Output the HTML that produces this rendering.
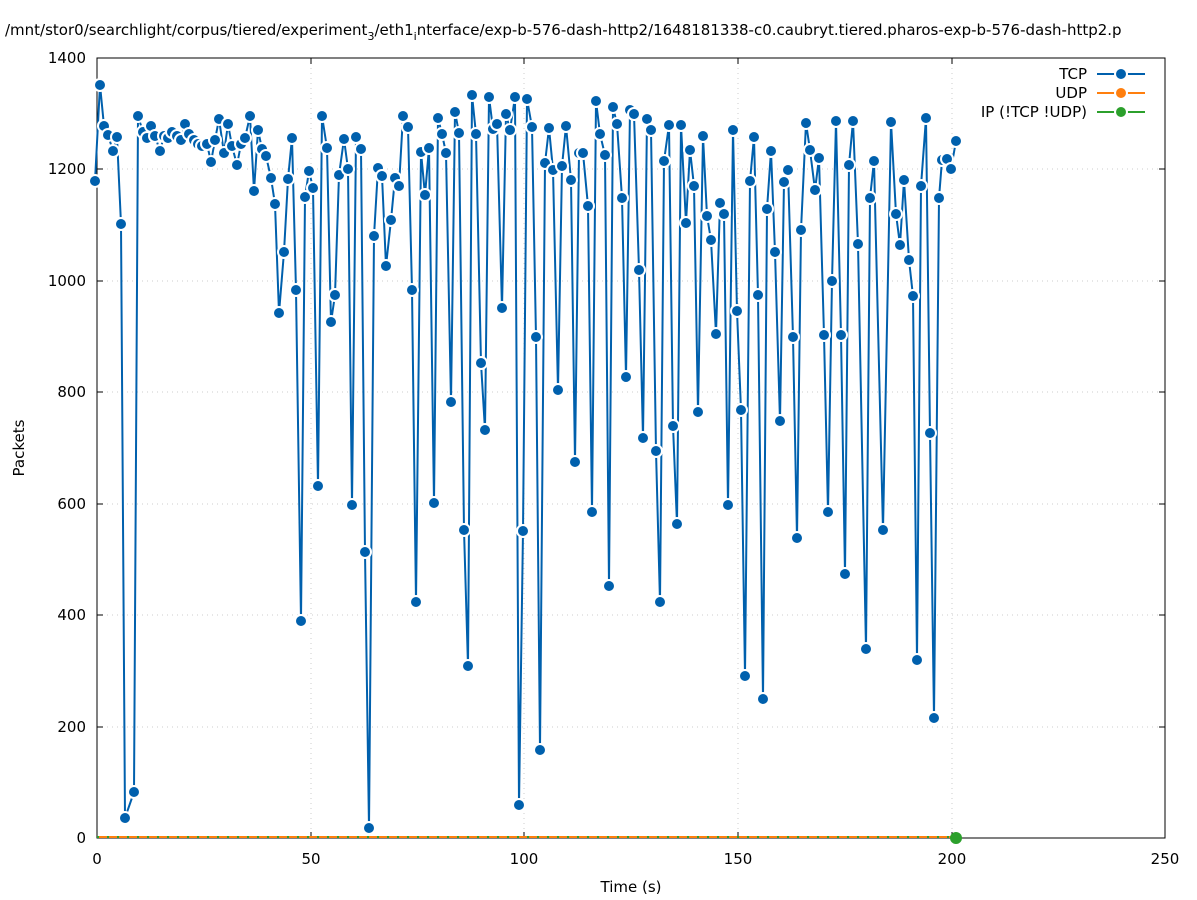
<!DOCTYPE html>
<html><head><meta charset="utf-8"><style>
body{margin:0;background:#fff;}
svg{display:block;font-family:"DejaVu Sans","Liberation Sans",sans-serif;}
.m{fill:#0060ad;stroke:#fff;stroke-width:2;}
</style></head><body>
<svg width="1197" height="900" viewBox="0 0 1197 900">
<rect width="1197" height="900" fill="#fff"/>
<text x="5" y="35" font-size="15" fill="#000">/mnt/stor0/searchlight/corpus/tiered/experiment<tspan font-size="11" dy="5">3</tspan><tspan dy="-5">/eth1</tspan><tspan font-size="11" dy="5">i</tspan><tspan dy="-5">nterface/exp-b-576-dash-http2/1648181338-c0.caubryt.tiered.pharos-exp-b-576-dash-http2.p</tspan></text>
<g stroke="#ccc" stroke-width="1" stroke-dasharray="1,4">
<line x1="97" x2="1165" y1="727" y2="727"/><line x1="97" x2="1165" y1="615" y2="615"/><line x1="97" x2="1165" y1="504" y2="504"/><line x1="97" x2="1165" y1="392" y2="392"/><line x1="97" x2="1165" y1="281" y2="281"/><line x1="97" x2="1165" y1="169" y2="169"/>
<line x1="311" x2="311" y1="58" y2="838"/><line x1="524" x2="524" y1="58" y2="838"/><line x1="738" x2="738" y1="58" y2="838"/><line x1="952" x2="952" y1="58" y2="838"/>
</g>
<rect x="97" y="58" width="1068" height="780" fill="none" stroke="#000" stroke-width="1"/>
<g stroke="#000"><line x1="311" x2="311" y1="838" y2="832"/><line x1="524" x2="524" y1="838" y2="832"/><line x1="738" x2="738" y1="838" y2="832"/><line x1="952" x2="952" y1="838" y2="832"/><line x1="311" x2="311" y1="58" y2="64"/><line x1="524" x2="524" y1="58" y2="64"/><line x1="738" x2="738" y1="58" y2="64"/><line x1="952" x2="952" y1="58" y2="64"/>
<line x1="97" x2="103" y1="727" y2="727"/><line x1="97" x2="103" y1="615" y2="615"/><line x1="97" x2="103" y1="504" y2="504"/><line x1="97" x2="103" y1="392" y2="392"/><line x1="97" x2="103" y1="281" y2="281"/><line x1="97" x2="103" y1="169" y2="169"/>
<line x1="1165" x2="1159" y1="727" y2="727"/><line x1="1165" x2="1159" y1="615" y2="615"/><line x1="1165" x2="1159" y1="504" y2="504"/><line x1="1165" x2="1159" y1="392" y2="392"/><line x1="1165" x2="1159" y1="281" y2="281"/><line x1="1165" x2="1159" y1="169" y2="169"/></g>
<g font-size="15" fill="#000" text-anchor="end">
<text x="86" y="843">0</text><text x="86" y="732">200</text><text x="86" y="620">400</text><text x="86" y="509">600</text><text x="86" y="397">800</text><text x="86" y="286">1000</text><text x="86" y="174">1200</text><text x="86" y="63">1400</text></g>
<g font-size="15" fill="#000" text-anchor="middle">
<text x="97" y="864">0</text><text x="311" y="864">50</text><text x="524" y="864">100</text><text x="738" y="864">150</text><text x="952" y="864">200</text><text x="1165" y="864">250</text>
<text x="631" y="892">Time (s)</text>
<text transform="translate(24,448) rotate(-90)">Packets</text></g>
<line x1="97" x2="955" y1="837" y2="837" stroke="#ff7f0e" stroke-width="2"/>
<line x1="97" x2="955" y1="837" y2="837" stroke="#2ca02c" stroke-width="2" stroke-dasharray="2,8"/>
<circle cx="956" cy="838" r="6" fill="#2ca02c"/>
<polyline fill="none" stroke="#0060ad" stroke-width="2" stroke-linejoin="round" points="95,181 100,85 104,126 108,135 113,151 117,137 121,224 125,818 134,792 138,116 143,132 147,138 151,126 155,136 160,151 164,136 168,138 172,132 177,136 181,140 185,124 189,134 194,140 198,144 202,146 207,144 211,162 215,140 219,119 224,153 228,124 232,146 237,165 241,144 245,138 250,116 254,191 258,130 262,149 266,156 271,178 275,204 279,313 284,252 288,179 292,138 296,290 301,621 305,197 309,171 313,188 318,486 322,116 327,148 331,322 335,295 339,175 344,139 348,169 352,505 356,137 361,149 365,552 369,828 374,236 378,168 382,176 386,266 391,220 395,178 399,186 403,116 408,127 412,290 416,602 421,152 425,195 429,148 434,503 438,118 442,134 446,153 451,402 455,112 459,133 464,530 468,666 472,95 476,134 481,363 485,430 489,97 493,129 497,124 502,308 506,114 510,130 515,97 519,805 523,531 527,99 532,127 536,337 540,750 545,163 549,128 553,170 558,390 562,166 566,126 571,180 575,462 579,153 583,153 588,206 592,512 596,101 600,134 605,155 609,586 613,107 617,124 622,198 626,377 630,110 634,114 639,270 643,438 647,119 651,130 656,451 660,602 664,161 669,125 673,426 677,524 681,125 686,223 690,150 694,186 698,412 703,136 707,216 711,240 716,334 720,203 724,214 728,505 733,130 737,311 741,410 745,676 750,181 754,137 758,295 763,699 767,209 771,151 775,252 780,421 784,182 788,170 793,337 797,538 801,230"/>
<g class="m">
<circle cx="95" cy="181" r="6"/><circle cx="100" cy="85" r="6"/><circle cx="104" cy="126" r="6"/><circle cx="108" cy="135" r="6"/><circle cx="113" cy="151" r="6"/><circle cx="117" cy="137" r="6"/><circle cx="121" cy="224" r="6"/><circle cx="125" cy="818" r="6"/><circle cx="134" cy="792" r="6"/><circle cx="138" cy="116" r="6"/><circle cx="143" cy="132" r="6"/><circle cx="147" cy="138" r="6"/><circle cx="151" cy="126" r="6"/><circle cx="155" cy="136" r="6"/><circle cx="160" cy="151" r="6"/><circle cx="164" cy="136" r="6"/><circle cx="168" cy="138" r="6"/><circle cx="172" cy="132" r="6"/><circle cx="177" cy="136" r="6"/><circle cx="181" cy="140" r="6"/><circle cx="185" cy="124" r="6"/><circle cx="189" cy="134" r="6"/><circle cx="194" cy="140" r="6"/><circle cx="198" cy="144" r="6"/><circle cx="202" cy="146" r="6"/><circle cx="207" cy="144" r="6"/><circle cx="211" cy="162" r="6"/><circle cx="215" cy="140" r="6"/><circle cx="219" cy="119" r="6"/><circle cx="224" cy="153" r="6"/><circle cx="228" cy="124" r="6"/><circle cx="232" cy="146" r="6"/><circle cx="237" cy="165" r="6"/><circle cx="241" cy="144" r="6"/><circle cx="245" cy="138" r="6"/><circle cx="250" cy="116" r="6"/><circle cx="254" cy="191" r="6"/><circle cx="258" cy="130" r="6"/><circle cx="262" cy="149" r="6"/><circle cx="266" cy="156" r="6"/><circle cx="271" cy="178" r="6"/><circle cx="275" cy="204" r="6"/><circle cx="279" cy="313" r="6"/><circle cx="284" cy="252" r="6"/><circle cx="288" cy="179" r="6"/><circle cx="292" cy="138" r="6"/><circle cx="296" cy="290" r="6"/><circle cx="301" cy="621" r="6"/><circle cx="305" cy="197" r="6"/><circle cx="309" cy="171" r="6"/><circle cx="313" cy="188" r="6"/><circle cx="318" cy="486" r="6"/><circle cx="322" cy="116" r="6"/><circle cx="327" cy="148" r="6"/><circle cx="331" cy="322" r="6"/><circle cx="335" cy="295" r="6"/><circle cx="339" cy="175" r="6"/><circle cx="344" cy="139" r="6"/><circle cx="348" cy="169" r="6"/><circle cx="352" cy="505" r="6"/><circle cx="356" cy="137" r="6"/><circle cx="361" cy="149" r="6"/><circle cx="365" cy="552" r="6"/><circle cx="369" cy="828" r="6"/><circle cx="374" cy="236" r="6"/><circle cx="378" cy="168" r="6"/><circle cx="382" cy="176" r="6"/><circle cx="386" cy="266" r="6"/><circle cx="391" cy="220" r="6"/><circle cx="395" cy="178" r="6"/><circle cx="399" cy="186" r="6"/><circle cx="403" cy="116" r="6"/><circle cx="408" cy="127" r="6"/><circle cx="412" cy="290" r="6"/><circle cx="416" cy="602" r="6"/><circle cx="421" cy="152" r="6"/><circle cx="425" cy="195" r="6"/><circle cx="429" cy="148" r="6"/><circle cx="434" cy="503" r="6"/><circle cx="438" cy="118" r="6"/><circle cx="442" cy="134" r="6"/><circle cx="446" cy="153" r="6"/><circle cx="451" cy="402" r="6"/><circle cx="455" cy="112" r="6"/><circle cx="459" cy="133" r="6"/><circle cx="464" cy="530" r="6"/><circle cx="468" cy="666" r="6"/><circle cx="472" cy="95" r="6"/><circle cx="476" cy="134" r="6"/><circle cx="481" cy="363" r="6"/><circle cx="485" cy="430" r="6"/><circle cx="489" cy="97" r="6"/><circle cx="493" cy="129" r="6"/><circle cx="497" cy="124" r="6"/><circle cx="502" cy="308" r="6"/><circle cx="506" cy="114" r="6"/><circle cx="510" cy="130" r="6"/><circle cx="515" cy="97" r="6"/><circle cx="519" cy="805" r="6"/><circle cx="523" cy="531" r="6"/><circle cx="527" cy="99" r="6"/><circle cx="532" cy="127" r="6"/><circle cx="536" cy="337" r="6"/><circle cx="540" cy="750" r="6"/><circle cx="545" cy="163" r="6"/><circle cx="549" cy="128" r="6"/><circle cx="553" cy="170" r="6"/><circle cx="558" cy="390" r="6"/><circle cx="562" cy="166" r="6"/><circle cx="566" cy="126" r="6"/><circle cx="571" cy="180" r="6"/><circle cx="575" cy="462" r="6"/><circle cx="579" cy="153" r="6"/><circle cx="583" cy="153" r="6"/><circle cx="588" cy="206" r="6"/><circle cx="592" cy="512" r="6"/><circle cx="596" cy="101" r="6"/><circle cx="600" cy="134" r="6"/><circle cx="605" cy="155" r="6"/><circle cx="609" cy="586" r="6"/><circle cx="613" cy="107" r="6"/><circle cx="617" cy="124" r="6"/><circle cx="622" cy="198" r="6"/><circle cx="626" cy="377" r="6"/><circle cx="630" cy="110" r="6"/><circle cx="634" cy="114" r="6"/><circle cx="639" cy="270" r="6"/><circle cx="643" cy="438" r="6"/><circle cx="647" cy="119" r="6"/><circle cx="651" cy="130" r="6"/><circle cx="656" cy="451" r="6"/><circle cx="660" cy="602" r="6"/><circle cx="664" cy="161" r="6"/><circle cx="669" cy="125" r="6"/><circle cx="673" cy="426" r="6"/><circle cx="677" cy="524" r="6"/><circle cx="681" cy="125" r="6"/><circle cx="686" cy="223" r="6"/><circle cx="690" cy="150" r="6"/><circle cx="694" cy="186" r="6"/><circle cx="698" cy="412" r="6"/><circle cx="703" cy="136" r="6"/><circle cx="707" cy="216" r="6"/><circle cx="711" cy="240" r="6"/><circle cx="716" cy="334" r="6"/><circle cx="720" cy="203" r="6"/><circle cx="724" cy="214" r="6"/><circle cx="728" cy="505" r="6"/><circle cx="733" cy="130" r="6"/><circle cx="737" cy="311" r="6"/><circle cx="741" cy="410" r="6"/><circle cx="745" cy="676" r="6"/><circle cx="750" cy="181" r="6"/><circle cx="754" cy="137" r="6"/><circle cx="758" cy="295" r="6"/><circle cx="763" cy="699" r="6"/><circle cx="767" cy="209" r="6"/><circle cx="771" cy="151" r="6"/><circle cx="775" cy="252" r="6"/><circle cx="780" cy="421" r="6"/><circle cx="784" cy="182" r="6"/><circle cx="788" cy="170" r="6"/><circle cx="793" cy="337" r="6"/><circle cx="797" cy="538" r="6"/>
</g>
<polyline fill="none" stroke="#0060ad" stroke-width="2" stroke-linejoin="round" points="801,230 806,123 810,150 815,190 819,158 824,335 828,512 832,281 836,121 841,335 845,574 849,165 853,121 858,244 866,649 870,198 874,161 883,530 891,122 896,214 900,245 904,180 909,260 913,296 917,660 921,186 926,118 930,433 934,718 939,198 942,160 947,159 951,169 956,141"/>
<g class="m">
<circle cx="801" cy="230" r="6"/><circle cx="806" cy="123" r="6"/><circle cx="810" cy="150" r="6"/><circle cx="815" cy="190" r="6"/><circle cx="819" cy="158" r="6"/><circle cx="824" cy="335" r="6"/><circle cx="828" cy="512" r="6"/><circle cx="832" cy="281" r="6"/><circle cx="836" cy="121" r="6"/><circle cx="841" cy="335" r="6"/><circle cx="845" cy="574" r="6"/><circle cx="849" cy="165" r="6"/><circle cx="853" cy="121" r="6"/><circle cx="858" cy="244" r="6"/><circle cx="866" cy="649" r="6"/><circle cx="870" cy="198" r="6"/><circle cx="874" cy="161" r="6"/><circle cx="883" cy="530" r="6"/><circle cx="891" cy="122" r="6"/><circle cx="896" cy="214" r="6"/><circle cx="900" cy="245" r="6"/><circle cx="904" cy="180" r="6"/><circle cx="909" cy="260" r="6"/><circle cx="913" cy="296" r="6"/><circle cx="917" cy="660" r="6"/><circle cx="921" cy="186" r="6"/><circle cx="926" cy="118" r="6"/><circle cx="930" cy="433" r="6"/><circle cx="934" cy="718" r="6"/><circle cx="939" cy="198" r="6"/><circle cx="942" cy="160" r="6"/><circle cx="947" cy="159" r="6"/><circle cx="951" cy="169" r="6"/><circle cx="956" cy="141" r="6"/>
</g>
<g font-size="15" fill="#000" text-anchor="end">
<text x="1087" y="79">TCP</text><text x="1087" y="98">UDP</text><text x="1087" y="117">IP (!TCP  !UDP)</text></g>
<line x1="1097" x2="1145" y1="74" y2="74" stroke="#0060ad" stroke-width="2"/><circle cx="1121" cy="74" r="6" fill="#0060ad" stroke="#fff" stroke-width="2"/>
<line x1="1097" x2="1145" y1="93" y2="93" stroke="#ff7f0e" stroke-width="2"/><circle cx="1121" cy="93" r="6" fill="#ff7f0e" stroke="#fff" stroke-width="2"/>
<line x1="1097" x2="1145" y1="112" y2="112" stroke="#2ca02c" stroke-width="2"/><circle cx="1121" cy="112" r="6" fill="#2ca02c" stroke="#fff" stroke-width="2"/>
</svg>
</body></html>
